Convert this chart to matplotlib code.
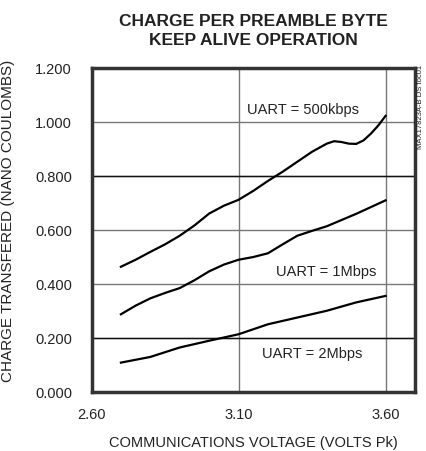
import numpy as np
import matplotlib
matplotlib.use("Agg")
import matplotlib.pyplot as plt

plt.rcParams["font.family"] = ["Liberation Sans", "DejaVu Sans"]

# data
volts = [2.70, 2.75, 2.80, 2.85, 2.90, 2.95, 3.00, 3.05, 3.10, 3.15, 3.20, 3.25, 3.30,
         3.35, 3.40, 3.425, 3.45, 3.475, 3.50, 3.525, 3.55, 3.575, 3.60]
q_500k = [0.462, 0.488, 0.517, 0.545, 0.577, 0.615, 0.659, 0.688, 0.710, 0.743, 0.780,
          0.814, 0.851, 0.888, 0.918, 0.927, 0.924, 0.918, 0.917, 0.930, 0.955, 0.985, 1.021]

volts_1m = [2.70, 2.75, 2.80, 2.85, 2.90, 2.95, 3.00, 3.05, 3.10, 3.15, 3.20, 3.25,
            3.30, 3.35, 3.40, 3.50, 3.60]
q_1m = [0.286, 0.318, 0.345, 0.365, 0.383, 0.412, 0.445, 0.470, 0.488, 0.498, 0.512, 0.545,
        0.577, 0.595, 0.612, 0.658, 0.708]

volts_2m = [2.70, 2.80, 2.90, 3.00, 3.10, 3.20, 3.30, 3.40, 3.50, 3.60]
q_2m = [0.107, 0.128, 0.163, 0.188, 0.212, 0.249, 0.274, 0.299, 0.330, 0.354]

x_ticks = [2.60, 3.10, 3.60]
y_ticks = [0.0, 0.2, 0.4, 0.6, 0.8, 1.0, 1.2]
dark_grid = [0.2, 0.8]  # these two gridlines print darker in the original

labels = ["UART = 500kbps", "UART = 1Mbps", "UART = 2Mbps"]
label_pos = [(3.318, 1.046), (3.398, 0.447), (3.35, 0.144)]

fig = plt.figure(figsize=(4.26, 4.52), dpi=100)
ax = fig.add_axes([91.5 / 426, 1 - 392.5 / 452, (415 - 91.5) / 426, (392.5 - 68.5) / 452])

for xs, ys in [(volts, q_500k), (volts_1m, q_1m), (volts_2m, q_2m)]:
    ax.plot(xs, ys, color="black", lw=1.6, solid_joinstyle="round")

for txt, (x, y) in zip(labels, label_pos):
    ax.text(x, y, txt, ha="center", va="center", fontsize=10.5, color="#222222")

ax.set_xlim(2.60, 3.70)
ax.set_ylim(0, 1.2)
ax.set_xticks(x_ticks)
ax.set_xticklabels(["%.2f" % v for v in x_ticks])
ax.set_yticks(y_ticks)
ax.set_yticklabels(["%.3f" % v for v in y_ticks])
ax.tick_params(axis="y", length=0, labelsize=10.5, colors="#222222", pad=14)
ax.tick_params(axis="x", length=0, labelsize=10.5, colors="#222222", pad=11)
ax.grid(True, color="#777777", lw=1)
for g in dark_grid:
    ax.axhline(g, color="#111111", lw=1, zorder=0.6)
ax.set_axisbelow(True)
for s in ax.spines.values():
    s.set_linewidth(2.5)
    s.set_color("#333333")

ax.set_xlabel("COMMUNICATIONS VOLTAGE (VOLTS Pk)", fontsize=10.5, color="#222222", labelpad=10)
ax.set_ylabel("CHARGE TRANSFERED (NANO COULOMBS)", fontsize=11, color="#222222")
ax.yaxis.set_label_coords(-0.238, 0.53)

fig.text(253 / 426, 1 - 31 / 452, "CHARGE PER PREAMBLE BYTE\nKEEP ALIVE OPERATION",
         ha="center", va="center", fontsize=12.5, fontweight="bold", color="#222222",
         linespacing=1.3)
fig.text(421 / 426, 1 - 107 / 452, "MAX17823A-B DS toc01", rotation=90,
         ha="center", va="center", fontsize=5.5, color="#222222")

fig.savefig("out.png", dpi=100)
